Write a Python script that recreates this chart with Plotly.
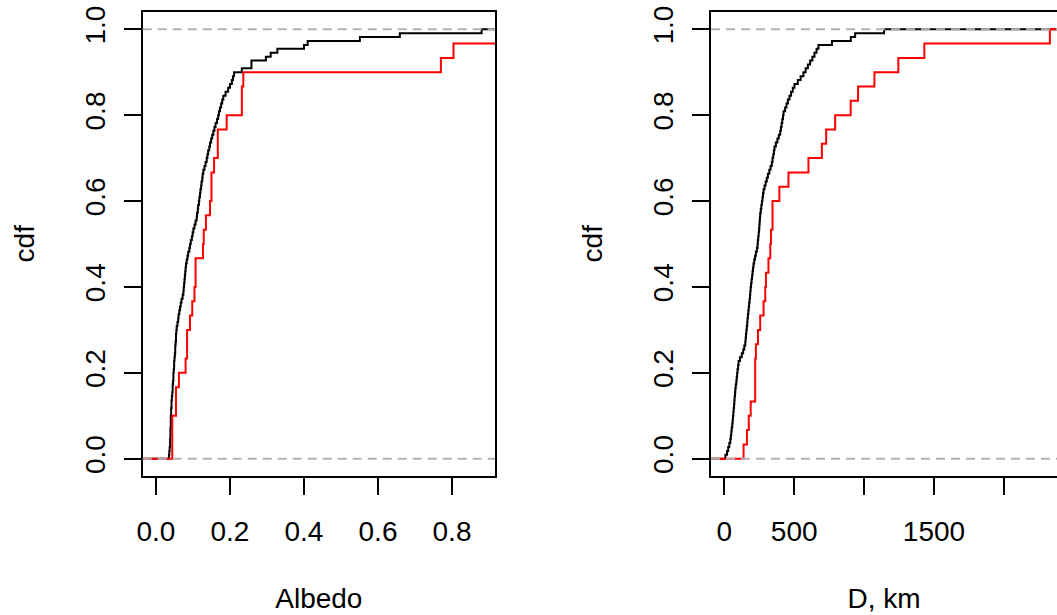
import numpy as np
import plotly.graph_objects as go

# ---------------- data ----------------
# Albedo, whole sample (black) and subsample (red)
albedo_all = [
    0.035, 0.036, 0.037, 0.038,
    0.038, 0.039, 0.039, 0.039, 0.040, 0.040, 0.040, 0.041,
    0.041, 0.042, 0.042, 0.043,
    0.044, 0.045, 0.045, 0.046, 0.047, 0.047, 0.048, 0.049, 0.049, 0.050, 0.051,
    0.052, 0.052, 0.053, 0.054, 0.054, 0.055, 0.056,
    0.058, 0.060, 0.061, 0.063, 0.065,
    0.067, 0.069, 0.072, 0.074,
    0.075, 0.076, 0.077, 0.078, 0.079, 0.080, 0.081,
    0.083, 0.085, 0.087, 0.090, 0.092,
    0.094, 0.097, 0.099, 0.101,
    0.104, 0.107, 0.110,
    0.111, 0.113, 0.114, 0.116, 0.117, 0.119,
    0.120, 0.122, 0.123, 0.125, 0.126, 0.128,
    0.131, 0.134, 0.137,
    0.139, 0.141, 0.144, 0.146,
    0.149, 0.152, 0.155,
    0.158, 0.161, 0.165, 0.168,
    0.170, 0.173,
    0.176, 0.179, 0.182,
    0.188, 0.195,
    0.200, 0.205,
    0.208, 0.211,
    0.232, 0.258, 0.258, 0.297, 0.310, 0.328, 0.400, 0.410, 0.551, 0.659, 0.880,
]
albedo_sel = [
    0.044, 0.044, 0.044, 0.054, 0.054, 0.062, 0.080, 0.084, 0.084, 0.092,
    0.098, 0.104, 0.107, 0.107, 0.127, 0.129, 0.135, 0.146, 0.150, 0.150,
    0.157, 0.167, 0.167, 0.191, 0.232, 0.232, 0.236, 0.770, 0.804, 0.950,
]

# Diameter D, km, whole sample (black) and subsample (red)
diam_all = [
    8,
    20, 28, 36, 43,
    47, 50, 53, 57, 60,
    62, 65, 67, 70, 72, 74, 77, 79,
    82, 86, 89, 92, 95, 99, 102,
    112, 125, 135, 143, 150,
    153, 155, 158, 161, 164, 166,
    169, 172, 175, 178, 181, 184, 186,
    189, 192, 195, 199, 202, 205, 209,
    214, 220, 226, 233, 238,
    240, 243, 246, 249, 251, 253, 255, 257,
    261, 265, 269, 273, 277, 281,
    288, 296, 304, 312,
    322, 331, 340,
    345, 350, 355, 359,
    369, 380, 390, 400,
    405, 410, 415, 420, 424,
    435, 445, 455, 466,
    478, 490, 502,
    526,
    546, 566,
    582, 598, 614,
    630, 645, 660, 674,
    770, 905, 936, 1143,
]
diam_sel = [
    138, 162, 175, 189, 221, 221, 221, 226, 241, 257,
    281, 293, 298, 316, 329, 334, 345, 345, 394, 459,
    602, 698, 729, 793, 904, 957, 1074, 1245, 1431, 2329,
]

# axis ticks / labels
x1_ticks = [0.0, 0.2, 0.4, 0.6, 0.8]
x1_labels = ["0.0", "0.2", "0.4", "0.6", "0.8"]
x2_ticks = [0, 500, 1000, 1500, 2000]
x2_labels = ["0", "500", "", "1500", ""]
y_ticks = [0.0, 0.2, 0.4, 0.6, 0.8, 1.0]
y_labels = ["0.0", "0.2", "0.4", "0.6", "0.8", "1.0"]

x1_range = [-0.0359, 0.9162]
x2_range = [-95, 2380]
y_range = [-0.0396, 1.0410]

# ---------------- figure ----------------
FONT = "Liberation Sans, Arial, Helvetica, sans-serif"
FS = 28


def ecdf_xy(vals, lo, hi):
    s = np.sort(np.asarray(vals, dtype=float))
    n = len(s)
    xs = [lo] + list(s) + [max(hi, s[-1] * 1.5)]
    ys = [0.0] + list(np.arange(1, n + 1) / n) + [1.0]
    return xs, ys


fig = go.Figure()

for vals, col, xa, ya, rng in [
    (albedo_all, "#000000", "x", "y", x1_range),
    (albedo_sel, "#FF0000", "x", "y", x1_range),
    (diam_all, "#000000", "x2", "y2", x2_range),
    (diam_sel, "#FF0000", "x2", "y2", x2_range),
]:
    span = rng[1] - rng[0]
    xs, ys = ecdf_xy(vals, rng[0] - span, rng[1] + span)
    fig.add_trace(go.Scatter(
        x=xs, y=ys, mode="lines", line=dict(color=col, width=2, shape="hv"),
        xaxis=xa, yaxis=ya, showlegend=False, hoverinfo="skip",
    ))

# grey dashed reference lines at 0 and 1
for xr, yr in [("x domain", "y"), ("x2 domain", "y2")]:
    for level in (0.0, 1.0):
        fig.add_shape(type="line", xref=xr, yref=yr, x0=0, x1=1, y0=level, y1=level,
                      line=dict(color="#B3B3B3", width=2, dash="9px,6px"), layer="above")

ydom = [1 - 475.7 / 615, 1 - 11.7 / 615]
axis_common = dict(
    automargin=False,
    showgrid=False, zeroline=False, showline=True, linecolor="black", linewidth=1.6,
    ticks="outside", ticklen=17, tickwidth=1.6, tickcolor="black",
    tickfont=dict(family=FONT, size=FS, color="black"),
    title_font=dict(family=FONT, size=FS, color="black"),
)

fig.update_layout(
    template="none",
    width=1057, height=615,
    margin=dict(l=0, r=0, t=0, b=0, pad=0),
    paper_bgcolor="white", plot_bgcolor="white",
    font=dict(family=FONT, size=FS, color="black"),
    xaxis=dict(domain=[142.7 / 1057, 495 / 1057], range=x1_range, anchor="y",
               tickmode="array", tickvals=x1_ticks, ticktext=x1_labels, mirror=True,
               ticklabelstandoff=13, title=dict(text="Albedo", standoff=42), **axis_common),
    yaxis=dict(domain=ydom, range=y_range, anchor="x",
               tickmode="array", tickvals=y_ticks, ticktext=y_labels, mirror=True,
               tickangle=-90, ticklabelstandoff=8, title=dict(text="cdf", standoff=37),
               **axis_common),
    xaxis2=dict(domain=[711 / 1057, 1.0], range=x2_range, anchor="y2",
                tickmode="array", tickvals=x2_ticks, ticktext=x2_labels, mirror=True,
                ticklabelstandoff=13, title=dict(text="D, km", standoff=42), **axis_common),
    yaxis2=dict(domain=ydom, range=y_range, anchor="x2",
                tickmode="array", tickvals=y_ticks, ticktext=y_labels, mirror=False,
                tickangle=-90, ticklabelstandoff=8, title=dict(text="cdf", standoff=37),
                **axis_common),
)

fig.write_html(
    "out.html",
    config={"displayModeBar": False},
    post_script="document.body.style.margin='0';document.body.style.overflow='hidden';",
)
